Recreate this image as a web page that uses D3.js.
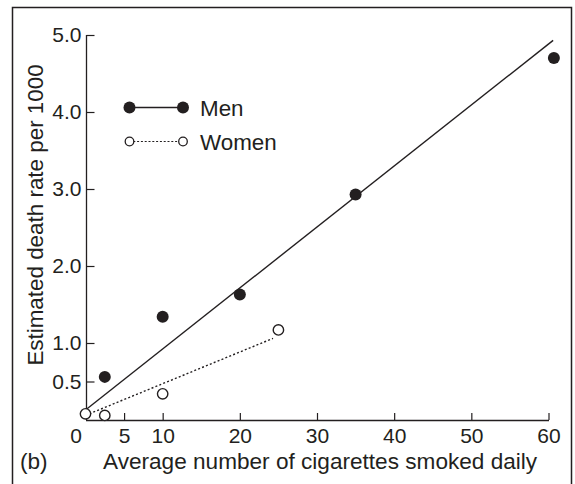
<!DOCTYPE html>
<html>
<head>
<meta charset="utf-8">
<script src="https://cdn.jsdelivr.net/npm/d3@7"></script>
<style>
  html, body { margin: 0; padding: 0; background: #fff; }
  svg { display: block; font-family: "Liberation Sans", Arial, Helvetica, sans-serif; }
</style>
</head>
<body>
<svg id="chart" width="575" height="484"></svg>
<script>
// Cigarettes smoked per day vs estimated death rate per 1000
const menCigs = [2.5, 10, 20, 35, 60.7];
const menRates = [0.56, 1.34, 1.63, 2.93, 4.70];
const womenCigs = [0, 2.5, 10, 25];
const womenRates = [0.08, 0.06, 0.34, 1.17];

// Fitted straight lines (end points)
const menFitCigs = [0, 60.6];
const menFitRates = [0.13, 4.93];
const womenFitCigs = [0, 24.3];
const womenFitRates = [0.06, 1.06];

const xTicks = [0, 5, 10, 20, 30, 40, 50, 60];
const yTicks = [0.5, 1.0, 2.0, 3.0, 4.0, 5.0];
const seriesNames = ["Men", "Women"];

const ink = "#231f20";
const svg = d3.select("#chart");

// outer frame (open at the bottom)
svg.append("path")
  .attr("d", "M12.5,484 V7.5 H571.5 V484")
  .attr("fill", "none").attr("stroke", ink).attr("stroke-width", 1.5);

const x = d3.scaleLinear().domain([0, 60]).range([85.5, 548.5]);
const y = d3.scaleLinear().domain([0, 5]).range([420, 35]);

// x axis with inward ticks
const xAxis = svg.append("g").attr("transform", `translate(0,${y(0)})`)
  .call(d3.axisBottom(x).tickValues(xTicks).tickSize(-7).tickSizeOuter(0)
    .tickFormat(d3.format("d")));
xAxis.select(".domain").attr("stroke", ink).attr("stroke-width", 1.3);
xAxis.selectAll(".tick line").attr("stroke", ink).attr("stroke-width", 1.2)
  .filter(d => d === 0).remove();
xAxis.selectAll(".tick text").attr("fill", ink).attr("font-size", 21)
  .attr("font-family", "Liberation Sans, Arial, sans-serif")
  .attr("y", 8).attr("dy", "0.71em")
  .attr("dx", d => d === 0 ? -10 : 0);

// y axis with inward ticks
const yAxis = svg.append("g").attr("transform", `translate(${x(0) + 1},0)`)
  .call(d3.axisLeft(y).tickValues(yTicks).tickSize(-8).tickSizeOuter(0)
    .tickFormat(d3.format(".1f")));
yAxis.select(".domain").attr("stroke", ink).attr("stroke-width", 1.3)
  .attr("d", `M0,${y(5)}V${y(0)}`);
yAxis.selectAll(".tick line").attr("stroke", ink).attr("stroke-width", 1.2);
yAxis.selectAll(".tick text").attr("fill", ink).attr("font-size", 21)
  .attr("font-family", "Liberation Sans, Arial, sans-serif")
  .attr("x", -5);

// axis titles
svg.append("text")
  .attr("x", 103).attr("y", 469)
  .attr("font-size", 22.6).attr("fill", ink)
  .text("Average number of cigarettes smoked daily");
svg.append("text")
  .attr("x", 20).attr("y", 469)
  .attr("font-size", 22.6).attr("fill", ink)
  .text("(b)");
svg.append("text")
  .attr("transform", `translate(43,${(65 + 365) / 2}) rotate(-90)`)
  .attr("text-anchor", "middle")
  .attr("font-size", 22.4).attr("fill", ink)
  .text("Estimated death rate per 1000");

// fitted lines
const line = d3.line().x(d => x(d[0])).y(d => y(d[1]));
svg.append("path")
  .attr("d", line(d3.zip(menFitCigs, menFitRates)))
  .attr("fill", "none").attr("stroke", ink).attr("stroke-width", 1.4);
svg.append("path")
  .attr("d", line(d3.zip(womenFitCigs, womenFitRates)))
  .attr("fill", "none").attr("stroke", ink).attr("stroke-width", 1.4)
  .attr("stroke-dasharray", "2,2.2");

// points
svg.append("g").selectAll("circle")
  .data(d3.zip(menCigs, menRates))
  .join("circle")
  .attr("cx", d => x(d[0])).attr("cy", d => y(d[1]))
  .attr("r", 6).attr("fill", ink);
svg.append("g").selectAll("circle")
  .data(d3.zip(womenCigs, womenRates))
  .join("circle")
  .attr("cx", d => x(d[0])).attr("cy", d => y(d[1]))
  .attr("r", 5.2).attr("fill", "#fff").attr("stroke", ink).attr("stroke-width", 1.4);

// legend
const legend = svg.append("g");
const rows = [
  { name: seriesNames[0], cy: 107.5, filled: true },
  { name: seriesNames[1], cy: 141.5, filled: false }
];
rows.forEach(r => {
  const g = legend.append("g");
  g.append("line")
    .attr("x1", 129.5).attr("x2", 183).attr("y1", r.cy).attr("y2", r.cy)
    .attr("stroke", ink).attr("stroke-width", r.filled ? 1.4 : 1.2)
    .attr("stroke-dasharray", r.filled ? null : "2,1.8");
  [129.5, 183].forEach(cx => {
    g.append("circle").attr("cx", cx).attr("cy", r.cy)
      .attr("r", r.filled ? 6 : 4.3)
      .attr("fill", r.filled ? ink : "#fff")
      .attr("stroke", ink).attr("stroke-width", r.filled ? 0 : 1.3);
  });
  g.append("text").attr("x", 200).attr("y", r.cy + 8)
    .attr("font-size", 22.4).attr("fill", ink).text(r.name);
});
</script>
</body>
</html>
